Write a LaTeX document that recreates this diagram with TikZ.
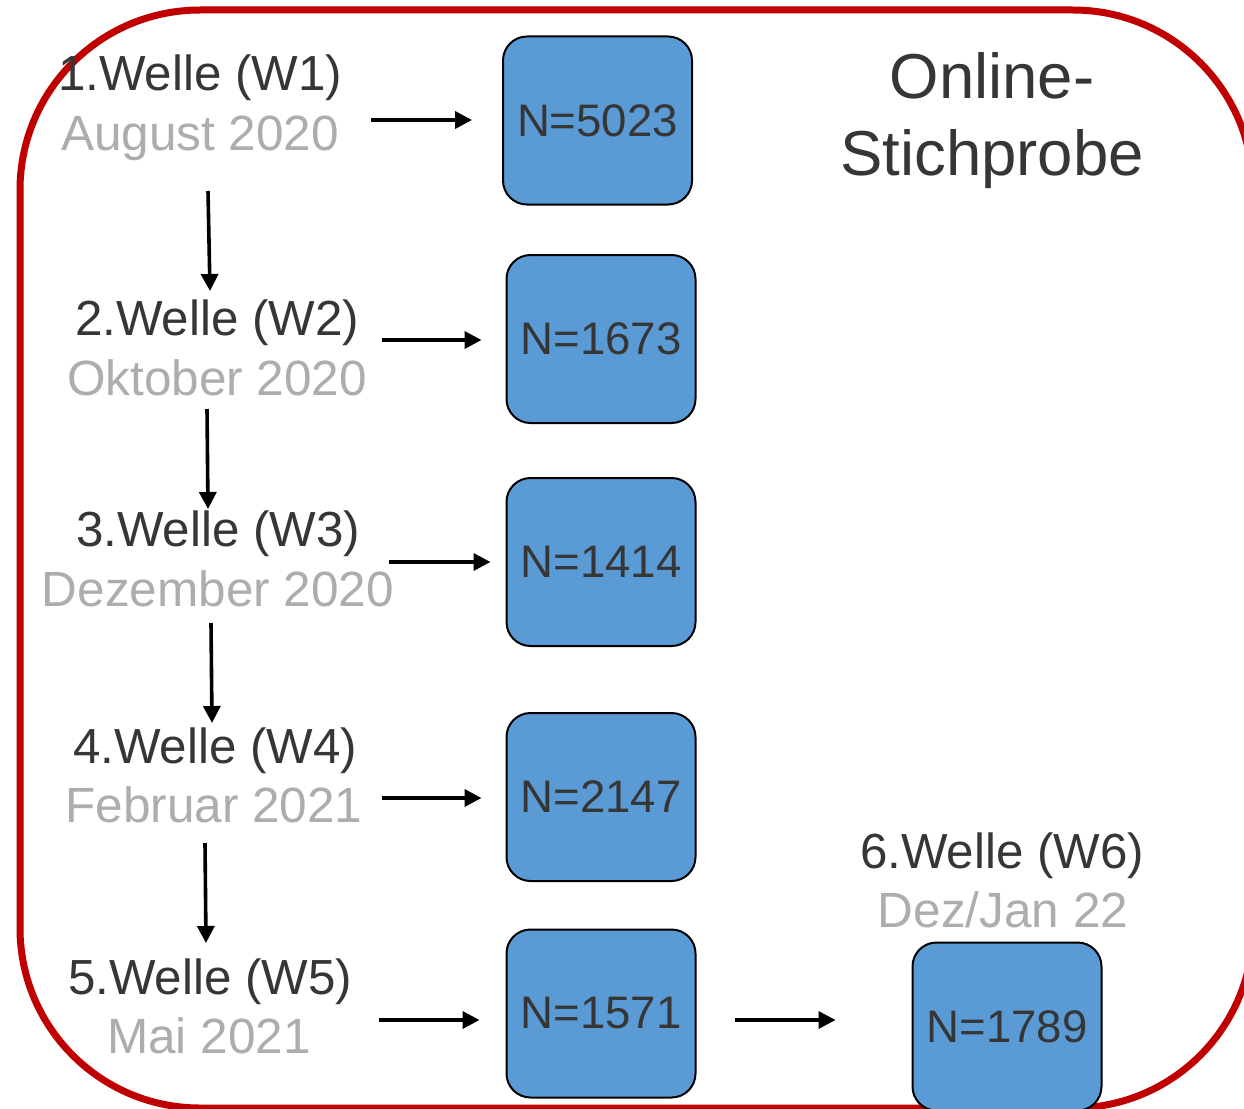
\documentclass[tikz,border=0pt]{standalone}
\usepackage{fontspec}
\setmainfont{Liberation Sans}
\usetikzlibrary{arrows.meta}
\definecolor{frame}{HTML}{C00000}
\definecolor{boxblue}{HTML}{5B9BD5}
\definecolor{dark}{HTML}{363636}
\definecolor{datec}{HTML}{ADADAD}
\begin{document}
\begin{tikzpicture}[x=1pt,y=-1pt,
  title/.style={anchor=base,inner sep=0pt,text=dark,font=\fontsize{49.3}{58}\selectfont},
  datum/.style={anchor=base,inner sep=0pt,text=datec,font=\fontsize{49.5}{58}\selectfont},
  nbox/.style={draw=black,line width=2pt,fill=boxblue,rounded corners=24pt,
    minimum width=189pt,minimum height=168pt,inner sep=0pt,text=dark,
    font=\fontsize{45.6}{54}\selectfont},
  arr/.style={line width=3.6pt,-{Triangle[length=17pt,width=17pt]}}]
\useasboundingbox (0,0) rectangle (1244,1108);
\clip (0,0) rectangle (1244,1108);
\fill[white] (0,0) rectangle (1244,1108);
% frame
\draw[frame,line width=7pt,rounded corners=180pt] (20,10) rectangle (1253,1108);
% labels
\node[title] (t1) at (200,90) {1.Welle (W1)};
\node[datum] (d1) at (200,150) {August 2020};
\node[title] (t2) at (217,335) {2.Welle (W2)};
\node[datum] (d2) at (217,395) {Oktober 2020};
\node[title] (t3) at (218,546) {3.Welle (W3)};
\node[datum] (d3) at (218,606) {Dezember 2020};
\node[title] (t4) at (215,763) {4.Welle (W4)};
\node[datum] (d4) at (214,822) {Februar 2021};
\node[title] (t5) at (210,994) {5.Welle (W5)};
\node[datum] (d5) at (209,1053) {Mai 2021};
\node[title] (t6) at (1002,868) {6.Welle (W6)};
\node[datum] (d6) at (1003,927) {Dez/Jan 22};
\node[anchor=base,inner sep=0pt,text=dark,font=\fontsize{63.5}{77}\selectfont] (on1) at (992,98) {Online-};
\node[anchor=base,inner sep=0pt,text=dark,font=\fontsize{63.5}{77}\selectfont] (on2) at (992,175) {Stichprobe};
% boxes
\node[nbox] (b1) at (597.5,120.5) {N=5023};
\node[nbox] (b2) at (601,339) {N=1673};
\node[nbox] (b3) at (601,562) {N=1414};
\node[nbox] (b4) at (601,797) {N=2147};
\node[nbox] (b5) at (601,1013.5) {N=1571};
\node[nbox] (b6) at (1007,1026.5) {N=1789};
% arrow start points
\coordinate (h1) at (371,120);
\coordinate (h2) at (382,340);
\coordinate (h3) at (389,562);
\coordinate (h4) at (382,798);
\coordinate (h5) at (379,1020);
\coordinate (h6) at (735,1020);
\draw[arr,shorten >=30pt] (h1) -- (h1 -| b1.west);
\draw[arr,shorten >=24pt] (h2) -- (h2 -| b2.west);
\draw[arr,shorten >=15pt] (h3) -- (h3 -| b3.west);
\draw[arr,shorten >=24pt] (h4) -- (h4 -| b4.west);
\draw[arr,shorten >=26pt] (h5) -- (h5 -| b5.west);
\draw[arr,shorten >=76pt] (h6) -- (h6 -| b6.west);
% vertical arrows
\coordinate (v1s) at (208,191); \coordinate (v1e) at (210,291);
\coordinate (v2s) at (207,409); \coordinate (v2e) at (208,509);
\coordinate (v3s) at (211,623); \coordinate (v3e) at (212,723);
\coordinate (v4s) at (205,843); \coordinate (v4e) at (206,943);
\draw[arr] (v1s) -- (v1e);
\draw[arr] (v2s) -- (v2e);
\draw[arr] (v3s) -- (v3e);
\draw[arr] (v4s) -- (v4e);
\end{tikzpicture}
\end{document}
